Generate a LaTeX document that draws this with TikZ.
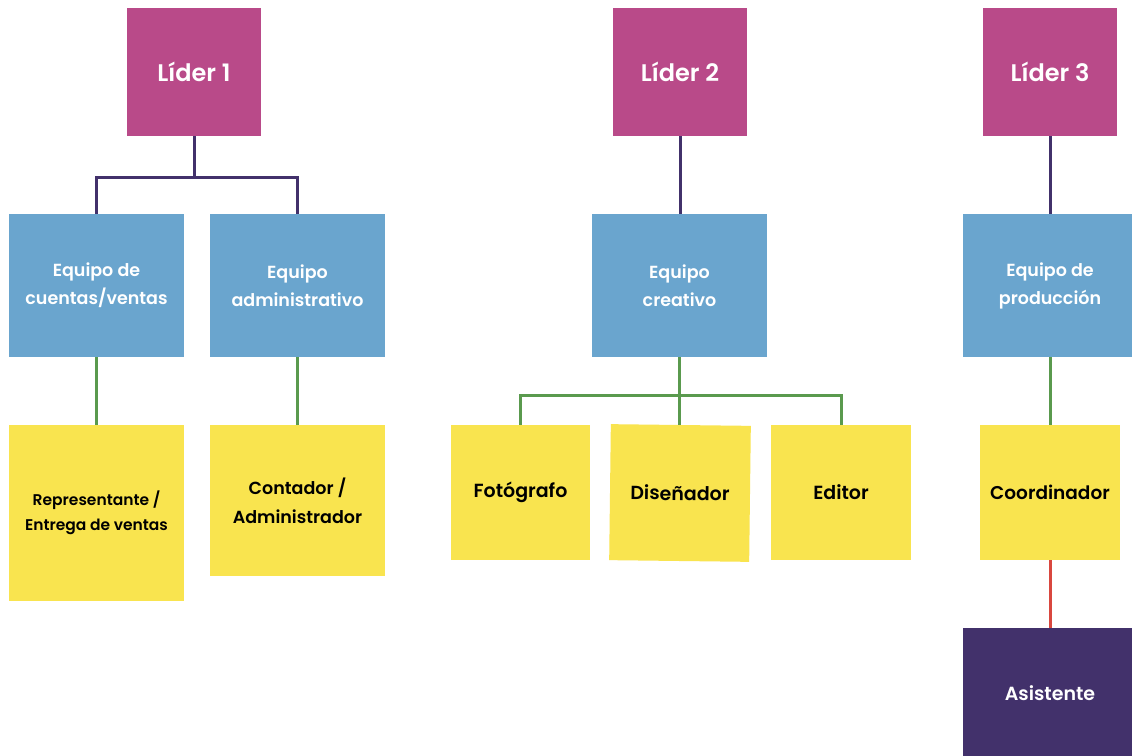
\documentclass[tikz,border=0pt]{standalone}
\usepackage{fontspec}
\setmainfont{Poppins SemiBold}
\definecolor{lpink}{HTML}{B94A89}
\definecolor{lblue}{HTML}{6AA5CE}
\definecolor{lyellow}{HTML}{F9E44F}
\definecolor{lpurple}{HTML}{42316B}
\definecolor{lgreen}{HTML}{5A9A4E}
\definecolor{lred}{HTML}{D9473F}
\tikzset{
  box/.style={draw=none, inner sep=2pt, align=center},
  leader/.style={box, fill=lpink, text=white, minimum width=134pt, minimum height=128pt, font=\fontsize{24}{28}\selectfont},
  team/.style={box, fill=lblue, text=white, minimum width=175pt, minimum height=143pt, font=\fontsize{17.5}{28}\selectfont},
  role/.style={box, fill=lyellow, text=black, minimum width=140pt, minimum height=135pt, font=\fontsize{19}{29}\selectfont},
  helper/.style={box, fill=lpurple, text=white, minimum width=175pt, minimum height=130pt, font=\fontsize{19}{29}\selectfont},
  purpleline/.style={draw=lpurple, line width=3pt},
  greenline/.style={draw=lgreen, line width=3pt},
  redline/.style={draw=lred, line width=3pt}
}
\begin{document}
\begin{tikzpicture}[x=1pt,y=-1pt]
\useasboundingbox[fill=white] (0,0) rectangle (1132,755);
% leaders
\node[leader] (l1) at (194,72) {Líder 1};
\node[leader] (l2) at (680,72) {Líder 2};
\node[leader] (l3) at (1050,72) {Líder 3};
% teams
\node[team] (cuentas) at (96.5,285.5) {Equipo de\\cuentas/ventas};
\node[team] (admin) at (297.5,285.5) {Equipo\\administrativo};
\node[team] (creativo) at (679.5,285.5) {Equipo\\creativo};
\node[team] (prod) at (1050,285.5) {Equipo de\\producción};
% roles
\node[role, minimum width=175pt, minimum height=176pt, font=\fontsize{15.5}{25}\selectfont] (rep) at (96.5,513) {Representante /\\Entrega de ventas};
\node[role, minimum width=175pt, minimum height=151pt, font=\fontsize{17.5}{29}\selectfont] (cont) at (297.5,500.5) {Contador /\\Administrador};
\node[role, minimum width=139pt] (foto) at (520.5,492.5) {Fotógrafo};
\node[role, rotate=-0.7, minimum height=136pt] (dis) at (680,493) {Diseñador};
\node[role, minimum width=140pt] (edit) at (841,492.5) {Editor};
\node[role, font=\fontsize{18.5}{29}\selectfont] (coord) at (1050,492.5) {Coordinador};
\node[helper] (asis) at (1050,693) {Asistente};
% connectors
\draw[purpleline] (l1.south) -- ++(0,41) coordinate (j1) -| (cuentas.north);
\draw[purpleline] (j1) -| (admin.north);
\draw[purpleline] (l2.south) -- (l2.south |- creativo.north);
\draw[purpleline] (l3.south) -- (prod.north);
\draw[greenline] (cuentas.south) -- (rep.north);
\draw[greenline] (admin.south) -- (cont.north);
\draw[greenline] (creativo.south) -- ++(0,38) coordinate (j2) -| (foto.north);
\draw[greenline] (j2) -| (edit.north);
\draw[greenline] (j2) -- (j2 |- dis.north);
\draw[greenline] (prod.south) -- (coord.north);
\draw[redline] (coord.south) -- (asis.north);
\end{tikzpicture}
\end{document}
